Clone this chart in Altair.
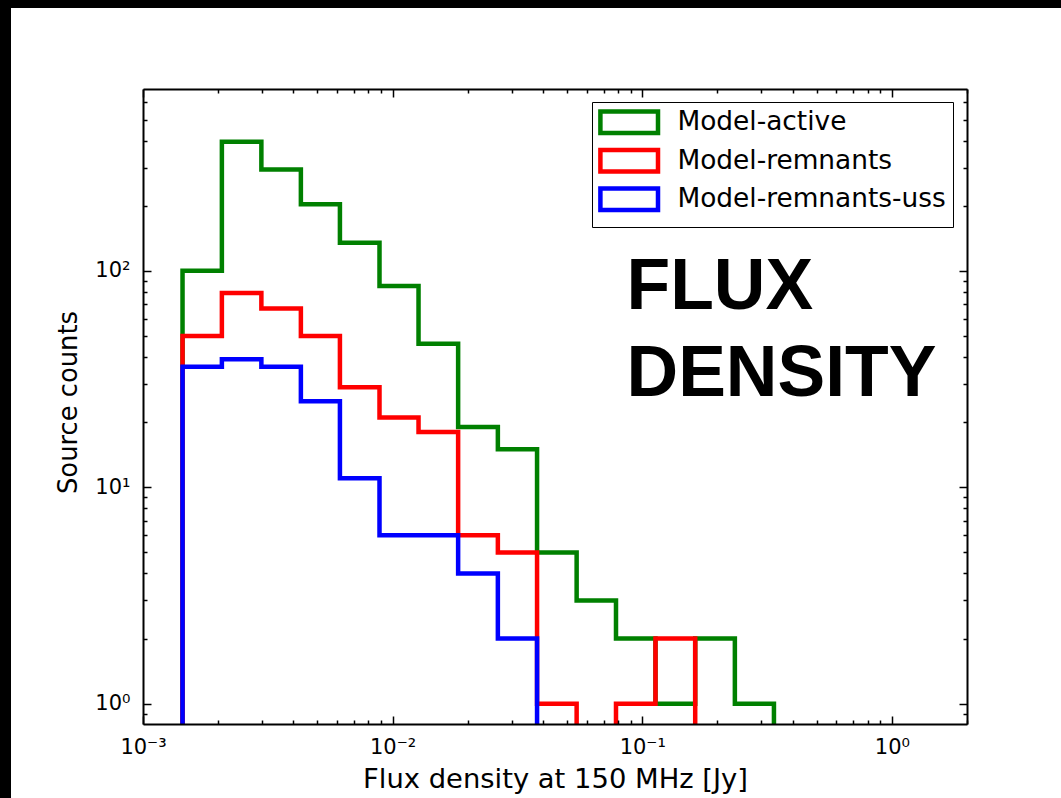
import altair as alt
import pandas as pd

# Log-spaced bin edges of the 150 MHz flux density histogram [Jy]
edges = [0.00144, 0.00207, 0.00298, 0.00429, 0.00615, 0.00886, 0.0127, 0.0183,
         0.0264, 0.0379, 0.0546, 0.0785, 0.113, 0.163, 0.235, 0.337]

# Source counts per bin
active = [100, 395, 294, 203, 135, 85, 46, 19, 15, 5, 3, 2, 1, 2, 1]
remnants = [50, 79, 67, 50, 29, 21, 18, 6, 5, 1, 0, 1, 2, 0, 0]
remnants_uss = [36, 39, 36, 25, 11, 6, 6, 4, 2, 0, 0, 0, 0, 0, 0]

series_names = ["Model-active", "Model-remnants", "Model-remnants-uss"]
series_colors = ["#008000", "#ff0000", "#0000ff"]

x_major = [0.001, 0.01, 0.1, 1.0]
x_major_labels = ["10\u207b\u00b3", "10\u207b\u00b2", "10\u207b\u00b9", "10\u2070"]
x_minor = [0.002, 0.003, 0.004, 0.005, 0.006, 0.007, 0.008, 0.009,
           0.02, 0.03, 0.04, 0.05, 0.06, 0.07, 0.08, 0.09,
           0.2, 0.3, 0.4, 0.5, 0.6, 0.7, 0.8, 0.9, 2.0]
y_major = [1, 10, 100]
y_major_labels = ["10\u2070", "10\u00b9", "10\u00b2"]
y_minor = [0.9, 2, 3, 4, 5, 6, 7, 8, 9, 20, 30, 40, 50, 60, 70, 80, 90,
           200, 300, 400, 500, 600]

x_domain = [0.001, 2.0]
y_domain = [0.806, 692]

# empty bins drop the step outline below the bottom of the log axis
FLOOR = 0.1


def outline(name, counts):
    rows = [{"series": name, "flux": edges[0], "count": FLOOR}]
    for i, c in enumerate(counts):
        rows.append({"series": name, "flux": edges[i], "count": c if c > 0 else FLOOR})
    rows.append({"series": name, "flux": edges[-1], "count": FLOOR})
    return rows


df = pd.DataFrame(outline(series_names[0], active)
                  + outline(series_names[1], remnants)
                  + outline(series_names[2], remnants_uss))


def label_expr(values, labels):
    expr = "''"
    for v, lab in reversed(list(zip(values, labels))):
        expr = f"datum.value == {v} ? '{lab}' : ({expr})"
    return expr


def tick_size_expr(majors, major_len, minor_len):
    test = " || ".join(f"datum.value == {v}" for v in majors)
    # negative length turns the ticks into the plot
    return {"expr": f"({test}) ? {-major_len} : {-minor_len}"}


FONT = "DejaVu Sans"
axis_common = dict(grid=False, domain=True, domainColor="black", domainWidth=2,
                   tickColor="black", tickWidth=1.5, labelColor="black",
                   labelFont=FONT, zindex=1, labelFlush=False, labelOverlap=False,
                   labelBound=False)

x_scale = alt.Scale(type="log", domain=x_domain, nice=False)
y_scale = alt.Scale(type="log", domain=y_domain, nice=False)

x_axis = alt.Axis(orient="bottom", values=x_major + x_minor,
                  labelExpr=label_expr(x_major, x_major_labels),
                  tickSize=tick_size_expr(x_major, 8, 4),
                  labelFontSize=21, labelPadding=20, labelBaseline="top",
                  title="Flux density at 150 MHz [Jy]", titleFont=FONT,
                  titleFontSize=27.4, titleFontWeight="normal", titleColor="black",
                  titleBaseline="alphabetic", titleY=63.5, **axis_common)
y_axis = alt.Axis(orient="left", values=y_major + y_minor,
                  labelExpr=label_expr(y_major, y_major_labels),
                  tickSize=tick_size_expr(y_major, 8, 4),
                  labelFontSize=21, labelPadding=21, labelBaseline="middle",
                  title="Source counts", titleFont=FONT, titleFontSize=25.8,
                  titleFontWeight="normal", titleColor="black",
                  titleBaseline="alphabetic", titleX=-67, titleY=313,
                  **axis_common)
x_axis_top = alt.Axis(orient="top", values=x_major + x_minor, labels=False,
                      title=None, tickSize=tick_size_expr(x_major, 8, 4),
                      **axis_common)
y_axis_right = alt.Axis(orient="right", values=y_major + y_minor, labels=False,
                        title=None, tickSize=tick_size_expr(y_major, 8, 4),
                        **axis_common)

# outlined rectangular swatches, 57.6 x 21.6 px
legend = alt.Legend(title=None, orient="none", legendX=449, legendY=13,
                    symbolType="M-4,-1.5H4V1.5H-4Z", symbolSize=207.4,
                    symbolStrokeWidth=4.5, symbolFillColor="white",
                    symbolOffset=17, labelOffset=35,
                    labelFont=FONT, labelFontSize=26.4, labelColor="black",
                    labelLimit=600, rowPadding=-2.5, padding=7,
                    strokeColor="black", fillColor="white", cornerRadius=0)

color = alt.Color("series:N",
                  scale=alt.Scale(domain=series_names, range=series_colors))


def step_layer(name, axes):
    enc = dict(
        x=alt.X("flux:Q", scale=x_scale, axis=x_axis if axes else None),
        y=alt.Y("count:Q", scale=y_scale, axis=y_axis if axes else None),
        color=color.legend(legend) if axes else color,
    )
    return (alt.Chart(df)
            .transform_filter(alt.datum.series == name)
            .mark_line(interpolate="step-after", strokeWidth=4.5, clip=True,
                       strokeJoin="miter", strokeCap="butt")
            .encode(**enc))


# invisible layer carrying the inward ticks of the top and right spines
frame = alt.Chart(df).mark_line(opacity=0).encode(
    x=alt.X("flux:Q", scale=x_scale, axis=x_axis_top),
    y=alt.Y("count:Q", scale=y_scale, axis=y_axis_right),
)

one = pd.DataFrame({"k": [0]})
strip_top = alt.Chart(one).mark_rect(color="black", clip=False).encode(
    x=alt.value(-143), x2=alt.value(918), y=alt.value(-89), y2=alt.value(-81))
strip_left = alt.Chart(one).mark_rect(color="black", clip=False).encode(
    x=alt.value(-143), x2=alt.value(-132), y=alt.value(-89), y2=alt.value(709))

banner = alt.Chart(pd.DataFrame({"t": ["FLUX\nDENSITY"]})).mark_text(
    lineBreak="\n", lineHeight=87.6, font="Liberation Sans", fontSize=71.5,
    fontWeight="bold", align="left", baseline="alphabetic", color="black",
).encode(x=alt.value(483.5), y=alt.value(219.5), text="t:N")

chart = alt.layer(
    strip_top, strip_left,
    step_layer(series_names[0], True),
    step_layer(series_names[1], False),
    step_layer(series_names[2], False),
    frame, banner,
).resolve_axis(x="independent", y="independent").properties(
    width=824, height=635,
    padding={"left": 143, "top": 89, "right": 94, "bottom": 74},
    autosize=alt.AutoSizeParams(type="none"),
    background="white",
).configure_view(stroke=None)

chart.save("out.html", embed_options={"renderer": "svg", "actions": False})
